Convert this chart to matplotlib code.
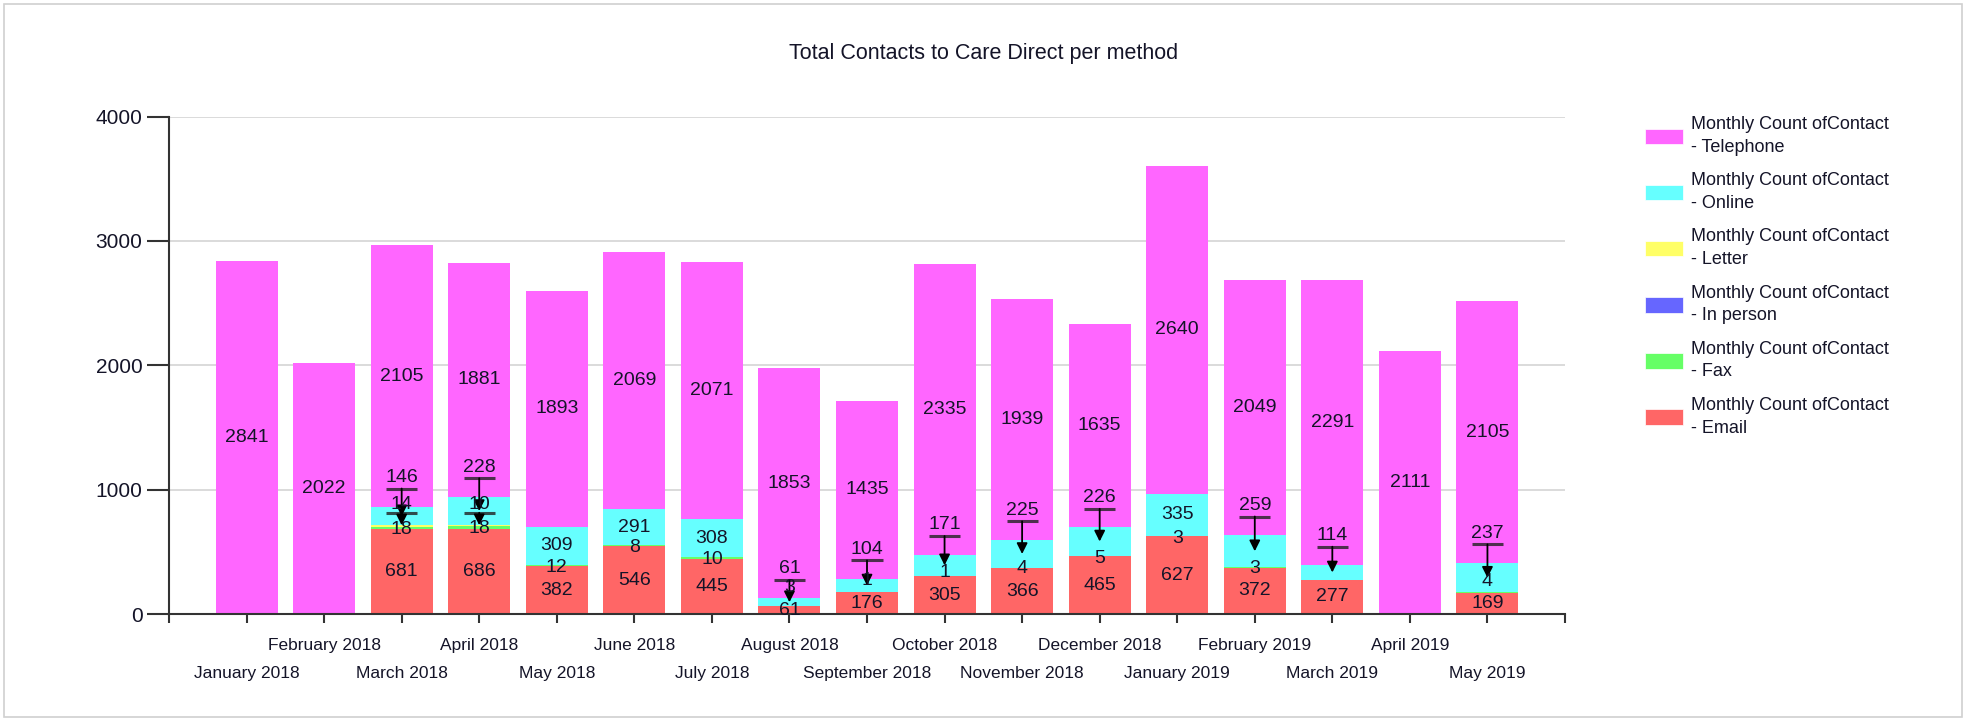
import numpy as np
import matplotlib
matplotlib.use("Agg")
import matplotlib.pyplot as plt
from matplotlib import font_manager
from matplotlib.patches import Patch, Rectangle

# ---------------- data ----------------
months = ["January 2018", "February 2018", "March 2018", "April 2018", "May 2018",
          "June 2018", "July 2018", "August 2018", "September 2018", "October 2018",
          "November 2018", "December 2018", "January 2019", "February 2019",
          "March 2019", "April 2019", "May 2019"]
email     = [0, 0, 681, 686, 382, 546, 445, 61, 176, 305, 366, 465, 627, 372, 277, 0, 169]
fax       = [0, 0, 18, 18, 12, 8, 10, 3, 1, 1, 4, 5, 3, 3, 0, 0, 4]
in_person = [0, 0, 0, 0, 0, 0, 0, 0, 0, 0, 0, 0, 0, 0, 0, 0, 0]
letter    = [0, 0, 14, 10, 0, 0, 0, 0, 0, 0, 0, 0, 0, 0, 0, 0, 0]
online    = [0, 0, 146, 228, 309, 291, 308, 61, 104, 171, 225, 226, 335, 259, 114, 0, 237]
telephone = [2841, 2022, 2105, 1881, 1893, 2069, 2071, 1853, 1435, 2335, 1939, 1635,
             2640, 2049, 2291, 2111, 2105]

series_names = ["Email", "Fax", "In person", "Letter", "Online", "Telephone"]
series_vals = [email, fax, in_person, letter, online, telephone]
series_cols = ["#FF6666", "#66FF66", "#6666FF", "#FFFF66", "#66FFFF", "#FF66FF"]

# ---------------- fonts ----------------
names = {f.name for f in font_manager.fontManager.ttflist}
base = "Liberation Sans Narrow" if "Liberation Sans Narrow" in names else "Liberation Sans"
plt.rcParams["font.family"] = [base, "DejaVu Sans"]
TXT = "#141428"

W, H = 1966, 720
fig = plt.figure(figsize=(W / 100, H / 100), dpi=100)
fig.patch.set_facecolor("white")
fig.add_artist(Rectangle((0.002, 0.004), 0.996, 0.99, transform=fig.transFigure,
                         fill=False, edgecolor="#d0d0d0", lw=1.2))

left, right = 169 / W, 1565 / W
bottom, top = 1 - 614 / H, 1 - 116.6 / H
ax = fig.add_axes([left, bottom, right - left, top - bottom])

x = np.arange(len(months))
cum = np.zeros(len(months))
bottoms = []
for vals, col in zip(series_vals, series_cols):
    v = np.array(vals, dtype=float)
    ax.bar(x, v, bottom=cum, width=0.8, color=col, linewidth=0, zorder=2)
    bottoms.append(cum.copy())
    cum = cum + v

ax.set_xlim(-1, len(months))
ax.set_ylim(0, 4000)
ax.set_yticks([0, 1000, 2000, 3000, 4000])
ax.yaxis.grid(True, color="#d8d8d8", lw=1.3, zorder=0)
ax.set_axisbelow(True)
for s in ["top", "right"]:
    ax.spines[s].set_visible(False)
for s in ["left", "bottom"]:
    ax.spines[s].set_color("#333333")
    ax.spines[s].set_linewidth(1.5)
ax.tick_params(axis="y", length=16, width=1.5, color="#333333", labelsize=15,
               labelcolor=TXT, pad=3)
ax.set_xticks(np.arange(-1, len(months) + 1))
ax.set_xticklabels([])
ax.tick_params(axis="x", length=6.5, width=1.5, color="#333333")

# alternating month labels
for i, m in enumerate(months):
    yy = -0.064 if i % 2 == 1 else -0.119
    ax.text(i, yy, m, transform=ax.get_xaxis_transform(), ha="center", va="center",
            fontsize=12.5, color=TXT, clip_on=False)

FS = 14
em_b, fx_b, ip_b, lt_b, on_b, tl_b = bottoms

def leader(i, label_y, cap_y, target_y, text):
    ax.text(i, label_y, text, ha="center", va="center", fontsize=FS, color=TXT, zorder=5)
    ax.plot([i - 0.2, i + 0.2], [cap_y, cap_y], color="#222222", lw=2.2, alpha=0.8,
            zorder=4, solid_capstyle="butt")
    ax.annotate("", xy=(i, target_y), xytext=(i, cap_y),
                arrowprops=dict(arrowstyle="-|>", color="black", lw=1.3,
                                mutation_scale=16, shrinkA=0, shrinkB=0), zorder=4)

for i in range(len(months)):
    if telephone[i] > 0:
        ax.text(i, tl_b[i] + telephone[i] / 2, str(telephone[i]), ha="center",
                va="center", fontsize=FS, color=TXT, zorder=5)
    email_lab = None
    if email[i] > 0:
        email_lab = em_b[i] + email[i] / 2
        ax.text(i, email_lab, str(email[i]), ha="center", va="center", fontsize=FS,
                color=TXT, zorder=5)
    if fax[i] > 0:
        fy = fx_b[i] + fax[i] - 20
        if email_lab is not None:
            fy = max(fy, email_lab + 180)
        ax.text(i, fy, str(fax[i]), ha="center", va="center", fontsize=FS,
                color=TXT, zorder=5)
    if letter[i] > 0:
        ltop = lt_b[i] + letter[i]
        leader(i, ltop + 170, ltop + 100, ltop, str(letter[i]))
    if online[i] > 0:
        otop = on_b[i] + online[i]
        if online[i] >= 280:
            ax.text(i, on_b[i] + online[i] / 2, str(online[i]), ha="center",
                    va="center", fontsize=FS, color=TXT, zorder=5)
        else:
            leader(i, otop + 240, otop + 150, on_b[i] + online[i] / 2, str(online[i]))

# title
fig.text(984 / W, 1 - 53 / H, "Total Contacts to Care Direct per method", ha="center",
         va="center", fontsize=15.5, color=TXT)

# legend
order = [5, 4, 3, 2, 1, 0]
handles = [Patch(facecolor=series_cols[k], edgecolor="white", lw=0.5) for k in order]
labels = ["Monthly Count ofContact\n- " + series_names[k] for k in order]
leg = fig.legend(handles, labels, loc="upper left", bbox_to_anchor=(1638 / W, 1 - 109 / H),
                 frameon=False, fontsize=13, handlelength=2.1, handleheight=0.95,
                 labelspacing=0.9, handletextpad=0.45, borderaxespad=0)
for t in leg.get_texts():
    t.set_color(TXT)
    t.set_linespacing(1.45)

fig.savefig("out.png", dpi=100)
